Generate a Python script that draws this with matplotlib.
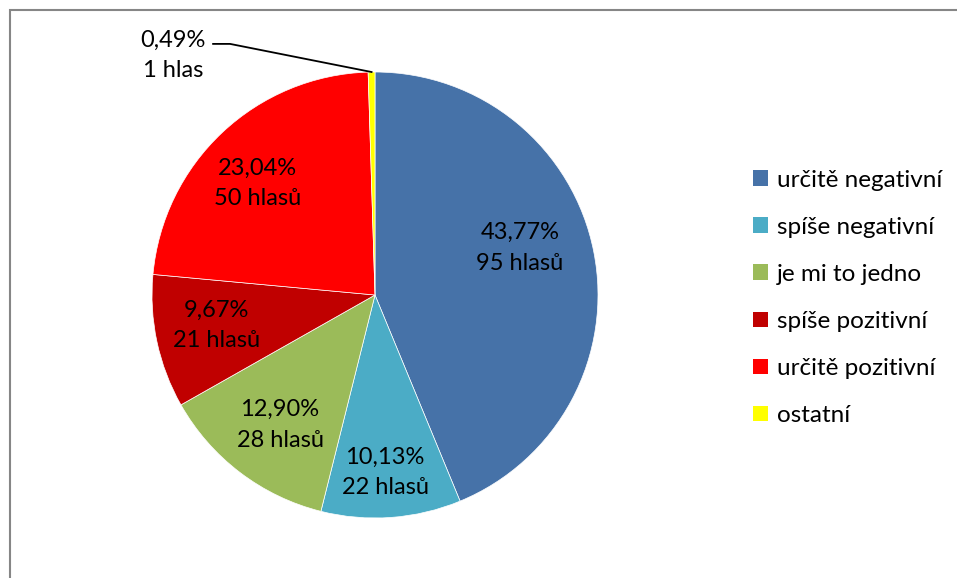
import matplotlib.pyplot as plt
import matplotlib.patches as mpatches
import numpy as np

plt.rcParams['font.family'] = ['Lato', 'DejaVu Sans']

# Data
categories = ['určitě negativní', 'spíše negativní', 'je mi to jedno',
              'spíše pozitivní', 'určitě pozitivní', 'ostatní']
percents = [43.77, 10.13, 12.90, 9.67, 23.04, 0.49]
votes = [95, 22, 28, 21, 50, 1]
colors = ['#4672A8', '#4BACC6', '#9BBB59', '#C00000', '#FF0000', '#FFFF00']

# label centres (pie data units, radius = 1)
label_pos = [(0.650, 0.211), (0.045, -0.794), (-0.426, -0.583),
             (-0.709, -0.135), (-0.525, 0.502), (-0.906, 1.076)]

W, H = 957, 578
fig = plt.figure(figsize=(W / 100, H / 100), dpi=100)

# outer chart frame
fig.add_artist(mpatches.Rectangle((10 / W, -0.1), 1.2, 1.1 - 10 / H,
                                  transform=fig.transFigure, fill=False,
                                  edgecolor='#868686', lw=1.5))

cx, cy, r = 375, 295, 223
ax = fig.add_axes([(cx - r) / W, (H - cy - r) / H, 2 * r / W, 2 * r / H])
wedges, _ = ax.pie(percents, colors=colors, startangle=90, counterclock=False,
                   wedgeprops=dict(edgecolor='white', linewidth=0.5))
ax.set_xlim(-1, 1)
ax.set_ylim(-1, 1)
ax.set_aspect('equal')
ax.axis('off')

for p, v, (lx, ly) in zip(percents, votes, label_pos):
    word = 'hlas' if v == 1 else 'hlasů'
    txt = f"{p:.2f}%".replace('.', ',') + f"\n{v} {word}"
    ax.text(lx, ly, txt, ha='center', va='center', fontsize=17,
            linespacing=1.55, color='black')

# leader line for the small slice
w = wedges[-1]
mid = np.deg2rad((w.theta1 + w.theta2) / 2)
ex, ey = np.cos(mid), np.sin(mid)
ax.plot([-0.726, -0.65, ex], [1.126, 1.126, ey], color='black', lw=1.3,
        clip_on=False)

handles = [mpatches.Patch(facecolor=c, edgecolor='none') for c in colors]
fig.legend(handles, categories, loc='center left',
           bbox_to_anchor=(731 / W, (H - 298) / H), frameon=False,
           fontsize=17.5, handlelength=0.63, handleheight=0.63,
           handletextpad=0.35, labelspacing=1.07)

fig.savefig('out.png', dpi=100)
